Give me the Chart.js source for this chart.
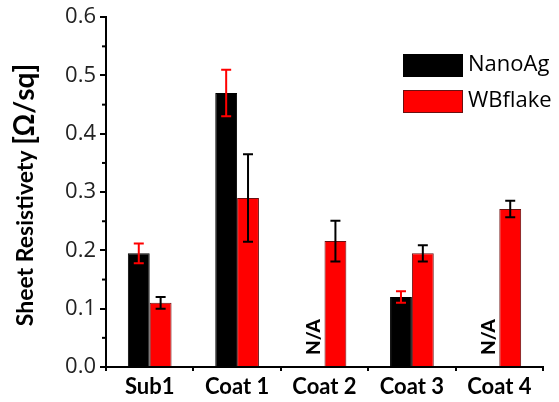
<!DOCTYPE html>
<html lang="en">
<head>
<meta charset="UTF-8">
<title>Sheet Resistivety</title>
<style>
  body { margin: 0; padding: 0; background: #fff; }
  canvas { display: block; }
</style>
</head>
<body>
<canvas id="grafico" width="559" height="402"></canvas>
<script src="https://cdn.jsdelivr.net/npm/chart.js"></script>
<script>
  const categories = ['Sub1', 'Coat 1', 'Coat 2', 'Coat 3', 'Coat 4'];
  const nanoAg = [0.195, 0.47, null, 0.12, null];
  const nanoAgErr = [0.017, 0.04, null, 0.01, null];
  const wbFlake = [0.11, 0.29, 0.216, 0.195, 0.271];
  const wbFlakeErr = [0.01, 0.075, 0.035, 0.014, 0.014];
  const naLabels = [null, null, 'N/A', null, 'N/A'];
  const yTicks = [0, 0.1, 0.2, 0.3, 0.4, 0.5, 0.6];

  const errColors = ['#ff0000', '#000000'];
  const errData = [nanoAgErr, wbFlakeErr];

  const extras = {
    id: 'extras',
    afterDatasetsDraw(chart) {
      const ctx = chart.ctx;
      const y = chart.scales.y;
      ctx.save();
      // error bars
      chart.data.datasets.forEach((ds, di) => {
        const meta = chart.getDatasetMeta(di);
        ds.data.forEach((v, i) => {
          const e = errData[di][i];
          if (v == null || e == null) return;
          const bar = meta.data[i];
          const yt = y.getPixelForValue(v + e);
          const yb = y.getPixelForValue(v - e);
          ctx.strokeStyle = errColors[di];
          ctx.lineWidth = 2;
          ctx.beginPath();
          ctx.moveTo(bar.x, yt); ctx.lineTo(bar.x, yb);
          ctx.moveTo(bar.x - 5, yt); ctx.lineTo(bar.x + 5, yt);
          ctx.moveTo(bar.x - 5, yb); ctx.lineTo(bar.x + 5, yb);
          ctx.stroke();
        });
      });
      // N/A labels
      const meta0 = chart.getDatasetMeta(0);
      ctx.fillStyle = '#000';
      ctx.font = '900 19px Lato';
      ctx.textAlign = 'left';
      ctx.textBaseline = 'middle';
      naLabels.forEach((t, i) => {
        if (!t) return;
        const bar = meta0.data[i];
        ctx.save();
        ctx.translate(bar.x, y.getPixelForValue(0) - 12);
        ctx.rotate(-Math.PI / 2);
        ctx.fillText(t, 0, 0);
        ctx.restore();
      });
      ctx.restore();
    },
    afterDraw(chart) {
      const ctx = chart.ctx;
      const y = chart.scales.y;
      const left = chart.chartArea.left;
      ctx.save();
      // minor ticks
      ctx.strokeStyle = '#000';
      ctx.lineWidth = 2;
      for (let i = 0; i < yTicks.length - 1; i++) {
        const py = y.getPixelForValue((yTicks[i] + yTicks[i + 1]) / 2);
        ctx.beginPath();
        ctx.moveTo(left - 4, py); ctx.lineTo(left, py);
        ctx.stroke();
      }
      // y title with mixed sizes
      ctx.fillStyle = '#000';
      ctx.textBaseline = 'middle';
      ctx.textAlign = 'left';
      const part1 = 'Sheet Resistivety ';
      const part2 = '[\u03a9/sq]';
      ctx.font = 'bold 23px Lato';
      const w1 = ctx.measureText(part1).width;
      ctx.font = 'bold 28px Lato';
      const w2 = ctx.measureText(part2).width;
      ctx.translate(25, 195);
      ctx.rotate(-Math.PI / 2);
      const start = -(w1 + w2) / 2;
      ctx.font = 'bold 23px Lato';
      ctx.fillText(part1, start, 1);
      ctx.font = 'bold 28px Lato';
      ctx.fillText(part2, start + w1, 0);
      ctx.restore();
      // legend inside plot
      ctx.save();
      ctx.font = '22px "Open Sans"';
      ctx.textBaseline = 'middle';
      chart.data.datasets.forEach((ds, di) => {
        const top = 54 + di * 36;
        ctx.fillStyle = ds.backgroundColor;
        ctx.fillRect(403, top, 60, 23);
        ctx.strokeStyle = ds.borderColor;
        ctx.lineWidth = 1;
        ctx.strokeRect(403.5, top + 0.5, 59, 22);
        ctx.fillStyle = '#000';
        ctx.fillText(ds.label, 468, top + 11);
      });
      ctx.restore();
    }
  };

  new Chart(document.getElementById('grafico'), {
    type: 'bar',
    data: {
      labels: categories,
      datasets: [
        { label: 'NanoAg', data: nanoAg, backgroundColor: '#000000', borderColor: '#000000', borderWidth: 1 },
        { label: 'WBflake', data: wbFlake, backgroundColor: '#ff0000', borderColor: '#6b1010', borderWidth: 1 }
      ]
    },
    options: {
      responsive: false,
      animation: false,
      layout: { padding: { left: 0, right: 16, top: 14, bottom: 0 } },
      datasets: { bar: { categoryPercentage: 0.5, barPercentage: 1.0 } },
      plugins: { legend: { display: false }, tooltip: { enabled: false } },
      scales: {
        x: {
          afterFit(scale) { scale.height = 35; },
          grid: { display: true, drawOnChartArea: false, offset: true, tickLength: 4, color: '#000', lineWidth: 2 },
          border: { display: true, color: '#000', width: 2 },
          ticks: { color: '#000', font: { family: 'Lato', weight: 'bold', size: 22 }, padding: 3 }
        },
        y: {
          min: 0, max: 0.6,
          afterFit(scale) { scale.width = 106; },
          afterBuildTicks(scale) { scale.ticks = yTicks.map(v => ({ value: v })); },
          grid: { display: true, drawOnChartArea: false, tickLength: 6, color: '#000', lineWidth: 2 },
          border: { display: true, color: '#000', width: 2 },
          ticks: { color: '#222', font: { family: 'Open Sans', size: 22 }, padding: 4,
            callback: v => v.toFixed(1) }
        }
      }
    },
    plugins: [extras]
  });
</script>
</body>
</html>
